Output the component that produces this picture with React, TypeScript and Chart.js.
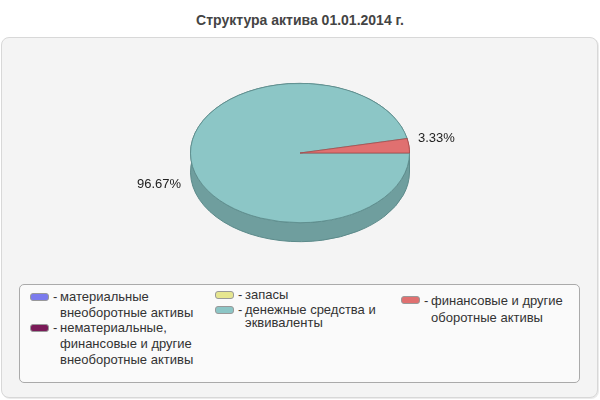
import { useEffect, useRef } from "react";
import { Chart, registerables } from "chart.js";

Chart.register(...registerables);

const title = "Структура актива 01.01.2014 г.";

const categories = [
  "материальные внеоборотные активы",
  "нематериальные, финансовые и другие внеоборотные активы",
  "запасы",
  "денежные средства и эквиваленты",
  "финансовые и другие оборотные активы",
];

const values = [0, 0, 0, 96.67, 3.33];

const topColors = ["#7b7bee", "#7a1a58", "#e6e690", "#8cc6c6", "#e07070"];
const sideColors = ["#5c5cb3", "#5c1442", "#adad6c", "#6f9e9e", "#b85a5a"];
const edgeColors = ["#5050a0", "#4a1036", "#9a9a5c", "#5c8a8a", "#a84c4c"];

// where each legend entry sits on the page (style only)
const legendSpots = [
  { left: 30, top: 289, lh: 16 },
  { left: 30, top: 320, lh: 16 },
  { left: 215, top: 287, lh: 16 },
  { left: 215, top: 304, lh: 12.5 },
  { left: 401, top: 291.5, lh: 17 },
];

const TILT = 70 / 110;
const DEPTH = 19;

const pie3d = {
  id: "pie3d",
  beforeDatasetsDraw(chart: any) {
    const meta = chart.getDatasetMeta(0);
    const ctx: CanvasRenderingContext2D = chart.ctx;
    const { x: cx, y: cy, outerRadius: r } = meta.data[0].getProps(
      ["x", "y", "outerRadius"],
      true
    );
    const ry = r * TILT;

    ctx.save();
    // side walls, back slice last so the thin red edge shows at the rim
    [...meta.data.keys()].reverse().forEach((i: number) => {
      const { startAngle, endAngle } = meta.data[i].getProps(
        ["startAngle", "endAngle"],
        true
      );
      if (endAngle - startAngle <= 0) return;
      ctx.beginPath();
      ctx.ellipse(cx, cy, r, ry, 0, startAngle, endAngle);
      ctx.ellipse(cx, cy + DEPTH, r, ry, 0, endAngle, startAngle, true);
      ctx.closePath();
      ctx.fillStyle = sideColors[i];
      ctx.fill();
      ctx.strokeStyle = edgeColors[i];
      ctx.lineWidth = 1;
      ctx.stroke();
    });
    ctx.restore();

    // squash the top face
    ctx.save();
    ctx.translate(cx, cy);
    ctx.scale(1, TILT);
    ctx.translate(-cx, -cy);
  },
  afterDatasetsDraw(chart: any) {
    const ctx: CanvasRenderingContext2D = chart.ctx;
    ctx.restore();

    const meta = chart.getDatasetMeta(0);
    const data = chart.data.datasets[0].data as number[];
    const total = data.reduce((a, b) => a + b, 0);
    ctx.save();
    ctx.font = '13px "Liberation Sans", Arial, sans-serif';
    ctx.fillStyle = "#222";
    ctx.textBaseline = "middle";
    meta.data.forEach((arc: any, i: number) => {
      if (!data[i]) return;
      const { x: cx, y: cy, outerRadius: r, startAngle, endAngle } =
        arc.getProps(["x", "y", "outerRadius", "startAngle", "endAngle"], true);
      const mid = (startAngle + endAngle) / 2;
      const c = Math.cos(mid);
      const s = Math.sin(mid);
      const rimX = cx + r * c;
      const rimY = cy + r * TILT * s;
      const y = rimY + (s > 0 ? DEPTH + 5 : -7);
      ctx.textAlign = c >= 0 ? "left" : "right";
      const x = c >= 0 ? rimX + 9 : rimX - 10;
      ctx.fillText(((data[i] / total) * 100).toFixed(2) + "%", x, y);
    });
    ctx.restore();
  },
};

export default function App() {
  const canvasRef = useRef<HTMLCanvasElement>(null);

  useEffect(() => {
    if (!canvasRef.current) return;
    const chart = new Chart(canvasRef.current, {
      type: "pie",
      data: {
        labels: categories,
        datasets: [
          {
            data: values,
            backgroundColor: topColors,
            borderColor: edgeColors,
            borderWidth: values.map((v) => (v > 0 ? 1 : 0)),
          },
        ],
      },
      options: {
        animation: false,
        responsive: true,
        maintainAspectRatio: false,
        rotation: 90,
        events: [],
        layout: { padding: 0 },
        plugins: {
          legend: { display: false },
          tooltip: { enabled: false },
        },
      },
      plugins: [pie3d],
    });
    return () => chart.destroy();
  }, []);

  return (
    <div
      style={{
        position: "fixed",
        left: 0,
        top: 0,
        width: 600,
        height: 400,
        background: "#fff",
        fontFamily: '"Liberation Sans", Arial, sans-serif',
      }}
    >
      <div
        style={{
          position: "absolute",
          top: 11,
          width: 600,
          textAlign: "center",
          fontWeight: "bold",
          fontSize: 14,
          lineHeight: "18px",
          color: "#444",
        }}
      >
        {title}
      </div>
      <div
        style={{
          position: "absolute",
          left: 1,
          top: 37,
          width: 597,
          height: 361,
          boxSizing: "border-box",
          border: "1px solid #d8d8d8",
          borderRadius: 8,
          background: "#f4f4f4",
          boxShadow: "1px 1px 0 #ebebeb",
        }}
      />
      <div style={{ position: "absolute", left: 0, top: 43, width: 600, height: 220 }}>
        <canvas ref={canvasRef} />
      </div>
      <div
        style={{
          position: "absolute",
          left: 19,
          top: 284,
          width: 561,
          height: 99,
          boxSizing: "border-box",
          border: "1px solid #aaa",
          borderRadius: 5,
          background: "#fafafa",
        }}
      />
      {categories.map((name, i) => {
        const spot = legendSpots[i];
        return (
          <div
            key={name}
            style={{
              position: "absolute",
              left: spot.left,
              top: spot.top,
              display: "flex",
              alignItems: "flex-start",
              fontSize: 13,
              lineHeight: `${spot.lh}px`,
              color: "#333",
            }}
          >
            <div
              style={{
                width: 19,
                height: 8,
                marginTop: spot.lh / 2 - 4,
                boxSizing: "border-box",
                border: "1px solid #999",
                borderRadius: 3,
                background: topColors[i],
              }}
            />
            <div style={{ marginLeft: 4, width: 7 }}>-</div>
            <div style={{ width: 145 }}>{name}</div>
          </div>
        );
      })}
    </div>
  );
}
